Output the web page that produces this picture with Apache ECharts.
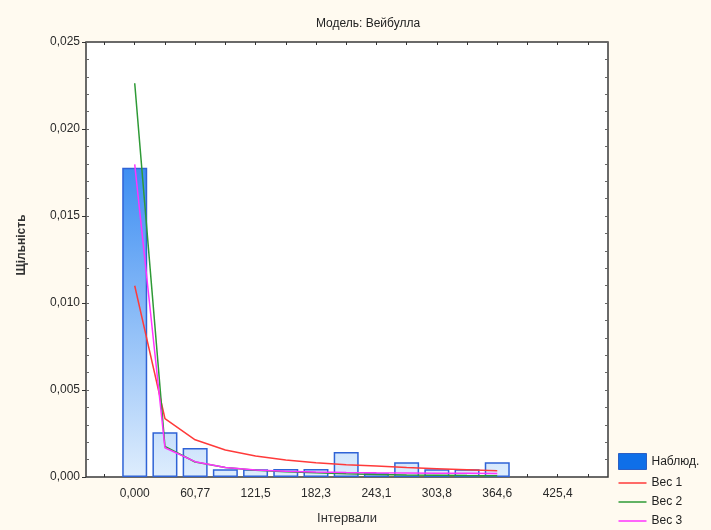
<!DOCTYPE html>
<html>
<head>
<meta charset="utf-8">
<script src="https://cdn.jsdelivr.net/npm/echarts@6/dist/echarts.min.js"></script>
<style>
  html, body { margin: 0; padding: 0; background: #fffaf0; }
  #chart { width: 711px; height: 530px; }
</style>
</head>
<body>
<div id="chart"></div>
<script>
// Interval centres (bin width 30.385)
const binCenters = [0, 30.385, 60.77, 91.155, 121.54, 151.925, 182.31, 212.695, 243.08, 273.465, 303.85, 334.235, 364.62];
// Observed density per interval
const observed = [0.01778, 0.00257, 0.00167, 0.00045, 0.00045, 0.00046, 0.00046, 0.00143, 0.00022, 0.00085, 0.00044, 0.00045, 0.00085];
// Fitted Weibull densities
const weight1 = [0.01099, 0.00336, 0.00214, 0.00155, 0.00121, 0.00098, 0.00082, 0.00071, 0.00063, 0.00054, 0.00048, 0.00042, 0.00036];
const weight2 = [0.02263, 0.00176, 0.00086, 0.00055, 0.00039, 0.00030, 0.00024, 0.00019, 0.00015, 0.00012, 0.00010, 0.00008, 0.00007];
const weight3 = [0.01797, 0.00168, 0.00088, 0.00054, 0.00040, 0.00033, 0.00029, 0.00026, 0.00024, 0.00023, 0.00022, 0.00021, 0.00020];
// Axis tick labels
const xTickValues = [0, 60.77, 121.54, 182.31, 243.08, 303.85, 364.62, 425.39];
const xTickLabels = ['0,000', '60,77', '121,5', '182,3', '243,1', '303,8', '364,6', '425,4'];
const xMinorTicks = [-30.385, 0, 30.385, 60.77, 91.155, 121.54, 151.925, 182.31, 212.695, 243.08, 273.465, 303.85, 334.235, 364.62, 395.005, 425.39, 455.775];

const font = 'Arial, "Liberation Sans", sans-serif';
const X_MIN = -49, X_MAX = 476;
const lineIcon = 'path://M0,0L28,0L28,1.5L0,1.5Z';

const pairs = (ys) => binCenters.map((x, i) => [x, ys[i]]);

const chart = echarts.init(document.getElementById('chart'));

const barFill = new echarts.graphic.LinearGradient(0, 160, 0, 477, [
  { offset: 0, color: '#3a8cf2' },
  { offset: 1, color: '#deedfd' }
], true);

const tickStyle = { color: '#333', width: 1 };

chart.setOption({
  backgroundColor: '#fffaf0',
  animation: false,
  title: {
    text: 'Модель: Вейбулла',
    left: 363, top: 13, textAlign: 'center',
    textStyle: { fontFamily: font, fontSize: 12, fontWeight: 'normal', color: '#222' }
  },
  grid: {
    left: 86, top: 42, right: 103, bottom: 53,
    show: true, backgroundColor: '#ffffff', borderColor: '#3a3a3a', borderWidth: 1.5
  },
  legend: {
    orient: 'vertical', left: 613, top: 448,
    itemWidth: 28, itemHeight: 16, itemGap: 7,
    textStyle: { fontFamily: font, fontSize: 12, color: '#222' },
    data: [
      { name: 'Наблюд.', icon: 'rect', itemStyle: { color: '#0f6fe8', borderColor: '#2b5fc4', borderWidth: 1 } },
      { name: 'Вес 1', icon: lineIcon },
      { name: 'Вес 2', icon: lineIcon },
      { name: 'Вес 3', icon: lineIcon }
    ]
  },
  xAxis: [
    {
      type: 'value', min: X_MIN, max: X_MAX, position: 'bottom',
      splitLine: { show: false },
      axisLine: { show: false, onZero: false },
      axisTick: { show: true, inside: true, length: 3, customValues: xMinorTicks, lineStyle: tickStyle },
      axisLabel: {
        customValues: xTickValues, margin: 11,
        formatter: (v) => { const i = xTickValues.findIndex(t => Math.abs(t - v) < 0.01); return i >= 0 ? xTickLabels[i] : ''; },
        fontFamily: font, fontSize: 12, color: '#2a2a2a'
      }
    },
    {
      type: 'value', min: X_MIN, max: X_MAX, position: 'top',
      splitLine: { show: false }, axisLine: { show: false, onZero: false },
      axisTick: { show: true, inside: true, length: 3, customValues: xMinorTicks, lineStyle: tickStyle },
      axisLabel: { show: false }
    }
  ],
  yAxis: [
    {
      type: 'value', min: 0, max: 0.025, interval: 0.005, position: 'left',
      splitLine: { show: false }, axisLine: { show: false, onZero: false },
      axisTick: { show: true, inside: false, length: 4, lineStyle: tickStyle },
      axisLabel: {
        margin: 6, fontFamily: font, fontSize: 12, color: '#2a2a2a',
        formatter: (v) => v.toFixed(3).replace('.', ',')
      }
    },
    {
      type: 'value', min: 0, max: 0.025, interval: 0.001, position: 'right',
      splitLine: { show: false }, axisLine: { show: false, onZero: false },
      axisTick: { show: true, inside: true, length: 3, lineStyle: { color: '#666', width: 1 } },
      axisLabel: { show: false }
    },
    {
      type: 'value', min: 0, max: 0.025, interval: 0.001, position: 'left',
      splitLine: { show: false }, axisLine: { show: false, onZero: false },
      axisTick: { show: true, inside: true, length: 3, lineStyle: { color: '#666', width: 1 } },
      axisLabel: { show: false }
    }
  ],
  graphic: [
    {
      type: 'text', x: 22, y: 245, rotation: Math.PI / 2,
      style: { text: 'Щільність', fontFamily: font, fontSize: 12, fontWeight: 'bold', fill: '#333', align: 'center', verticalAlign: 'middle' }
    },
    {
      type: 'text', x: 347, y: 518,
      style: { text: 'Інтервали', fontFamily: font, fontSize: 13, fill: '#333', align: 'center', verticalAlign: 'middle' }
    }
  ],
  series: [
    {
      name: 'Наблюд.', type: 'bar', xAxisIndex: 0, yAxisIndex: 0,
      barWidth: 25, data: pairs(observed),
      itemStyle: { color: barFill, borderColor: '#2f63d6', borderWidth: 1.5 }
    },
    {
      name: 'Вес 1', type: 'line', symbol: 'none', data: pairs(weight1),
      lineStyle: { color: '#ff3a3a', width: 1.5 }, itemStyle: { color: '#ff3a3a' }
    },
    {
      name: 'Вес 2', type: 'line', symbol: 'none', data: pairs(weight2),
      lineStyle: { color: '#2e9a36', width: 1.5 }, itemStyle: { color: '#2e9a36' }
    },
    {
      name: 'Вес 3', type: 'line', symbol: 'none', data: pairs(weight3),
      lineStyle: { color: '#ff33ff', width: 1.5 }, itemStyle: { color: '#ff33ff' }
    }
  ]
});
</script>
</body>
</html>
